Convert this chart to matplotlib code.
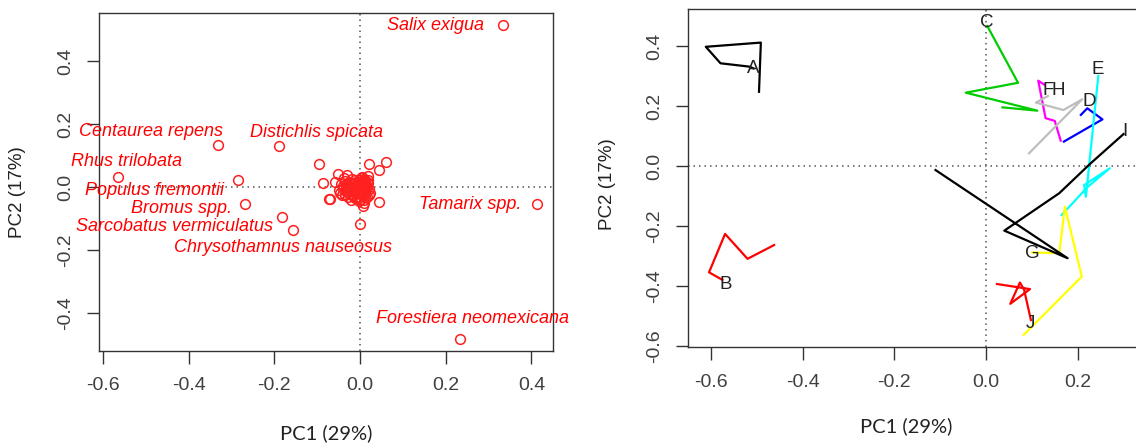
import numpy as np
import matplotlib.pyplot as plt

plt.rcParams['font.family'] = ['Liberation Sans', 'DejaVu Sans']

# ---- left panel: species scores ----
species = ['Salix exigua', 'Tamarix spp.', 'Forestiera neomexicana', 'Centaurea repens',
           'Distichlis spicata', 'Rhus trilobata', 'Populus fremontii', 'Bromus spp.',
           'Sarcobatus vermiculatus', 'Chrysothamnus nauseosus']
sp_x = [0.333, 0.413, 0.233, -0.332, -0.190, -0.566, -0.286, -0.269, -0.183, -0.157]
sp_y = [0.514, -0.054, -0.480, 0.134, 0.132, 0.031, 0.022, -0.054, -0.093, -0.136]
lab_x = [0.176, 0.258, 0.262, -0.489, -0.101, -0.545, -0.479, -0.418, -0.434, -0.180]
lab_y = [0.514, -0.054, -0.416, 0.178, 0.174, 0.083, -0.011, -0.069, -0.126, -0.190]

other_x = [-0.095, -0.087, -0.072, -0.070, 0.021, 0.060, 0.045, 0.044, 0.000, 0.006,
           -0.051, -0.030, -0.059, 0.004, 0.019, 0.015, 0.023, 0.000,
           -0.045, -0.040, -0.035, -0.030, -0.025, -0.020, -0.018, -0.015, -0.012,
           -0.010, -0.008, -0.005, -0.003, 0.000, 0.002, 0.004, 0.006, 0.008, 0.010,
           0.012, 0.014, 0.016, 0.018, -0.028, -0.038, -0.022, 0.008, -0.050, -0.042,
           0.020, -0.002, 0.012, -0.016, -0.006, 0.003, 0.010, -0.033,
           -0.046, -0.041, -0.036, -0.031, -0.026, -0.021, -0.017, -0.013, -0.009,
           -0.004, 0.001, 0.005, 0.009, 0.013, 0.017, 0.021, -0.024, -0.019, -0.011,
           -0.001, 0.007, 0.015, -0.034, -0.027, -0.014, 0.011, 0.019, -0.007, 0.002]
other_y = [0.074, 0.012, -0.038, -0.036, 0.074, 0.080, 0.055, -0.048, -0.115, -0.060,
           0.042, 0.039, 0.017, 0.033, 0.035, 0.002, -0.017, -0.041,
           0.010, -0.005, 0.020, -0.015, 0.005, 0.025, -0.020, 0.012, -0.008,
           0.018, -0.030, 0.002, 0.022, -0.012, 0.010, -0.025, 0.015, -0.004, 0.026,
           -0.018, 0.006, -0.030, 0.012, -0.030, 0.030, -0.040, -0.040, -0.010, -0.025,
           -0.005, -0.045, 0.020, 0.000, -0.018, 0.028, -0.050, -0.012,
           -0.018, 0.004, -0.024, 0.010, -0.006, 0.014, -0.028, 0.022, 0.004,
           -0.014, 0.016, -0.008, 0.020, -0.010, 0.000, -0.026, -0.020, -0.004, -0.034,
           0.006, -0.022, 0.018, 0.000, 0.016, -0.016, -0.032, 0.022, 0.010, -0.036]

# ---- right panel: site trajectories ----
sites = ['A', 'B', 'C', 'D', 'E', 'F', 'G', 'H', 'I', 'J']
site_colors = ['#000000', '#FF0000', '#00CD00', '#0000FF', '#00FFFF',
               '#FF00FF', '#FFFF00', '#BEBEBE', '#000000', '#FF0000']
traj_x = [[-0.495, -0.491, -0.611, -0.579, -0.517, -0.507],
          [-0.462, -0.520, -0.569, -0.604, -0.575],
          [0.003, 0.070, -0.044, 0.112, 0.036],
          [0.170, 0.254, 0.221, 0.207],
          [0.245, 0.218, 0.214, 0.270, 0.222, 0.165],
          [0.128, 0.114, 0.130, 0.150, 0.163],
          [0.101, 0.160, 0.172, 0.209, 0.082],
          [0.094, 0.210, 0.169, 0.109, 0.135],
          [0.300, 0.228, 0.160, 0.040, 0.178, -0.110],
          [0.024, 0.096, 0.053, 0.074, 0.083, 0.098]]
traj_y = [[0.249, 0.413, 0.399, 0.344, 0.333, 0.327],
          [-0.262, -0.308, -0.225, -0.353, -0.378],
          [0.468, 0.279, 0.246, 0.186, 0.197],
          [0.083, 0.157, 0.194, 0.172],
          [0.302, -0.101, -0.062, -0.006, -0.068, -0.162],
          [0.272, 0.286, 0.161, 0.152, 0.086],
          [-0.287, -0.289, -0.134, -0.367, -0.562],
          [0.044, 0.224, 0.188, 0.213, 0.235],
          [0.108, 0.010, -0.089, -0.214, -0.306, -0.012],
          [-0.392, -0.409, -0.458, -0.387, -0.410, -0.512]]
site_lx = [-0.507, -0.567, 0.002, 0.226, 0.243, 0.135, 0.101, 0.158, 0.304, 0.096]
site_ly = [0.327, -0.393, 0.479, 0.218, 0.322, 0.254, -0.289, 0.254, 0.115, -0.523]

W, H = 1136, 444
fig = plt.figure(figsize=(W / 100, H / 100), dpi=100)
axis_col = '#333333'


def style(ax, xt, yt):
    for s in ax.spines.values():
        s.set_color(axis_col)
        s.set_linewidth(1.0)
    ax.set_xticks(xt)
    ax.set_yticks(yt)
    ax.set_xticklabels(['%.1f' % v for v in xt])
    ax.set_yticklabels(['%.1f' % v for v in yt], rotation=90, va='center')
    ax.tick_params(axis='both', direction='out', length=9, width=1.0, colors=axis_col,
                   labelsize=14, labelcolor='#404040')
    ax.tick_params(axis='x', pad=10)
    ax.tick_params(axis='y', pad=9)
    ax.axhline(0, color='#555555', lw=1.1, ls=(0, (1, 2.6)))
    ax.axvline(0, color='#555555', lw=1.1, ls=(0, (1, 2.6)))


# left panel
ax1 = fig.add_axes([99.2 / W, (H - 350.7) / H, 454.1 / W, 338 / H])
ax1.set_xlim(-0.609, 0.451)
ax1.set_ylim(-0.518, 0.553)
style(ax1, [-0.6, -0.4, -0.2, 0.0, 0.2, 0.4], [-0.4, -0.2, 0.0, 0.2, 0.4])
ax1.plot(other_x, other_y, 'o', mfc='none', mec='#FF2020', ms=7, mew=1.1)
ax1.plot(sp_x, sp_y, 'o', mfc='none', mec='#FF2020', ms=7, mew=1.1)
for name, x, y in zip(species, lab_x, lab_y):
    ax1.text(x, y, name, color='#FF0000', fontsize=13, style='italic',
             ha='center', va='center', clip_on=False)

# right panel (runs past the right edge of the picture)
ax2 = fig.add_axes([688.4 / W, (H - 347.3) / H, 471.8 / W, 338 / H])
ax2.set_xlim(-0.649, 0.38)
ax2.set_ylim(-0.603, 0.524)
style(ax2, [-0.6, -0.4, -0.2, 0.0, 0.2], [-0.6, -0.4, -0.2, 0.0, 0.2, 0.4])
for xs, ys, c in zip(traj_x, traj_y, site_colors):
    ax2.plot(xs, ys, color=c, lw=1.6)
for s, x, y in zip(sites, site_lx, site_ly):
    ax2.text(x, y, s, color='#222222', fontsize=13.5, ha='center', va='center')

# axis titles
fig.text(326.6 / W, 1 - 433 / H, 'PC1 (29%)', family='Lato', fontsize=14.5,
         ha='center', va='center', color='#222222')
fig.text(906 / W, 1 - 426.7 / H, 'PC1 (29%)', family='Lato', fontsize=14.5,
         ha='center', va='center', color='#222222')
fig.text(18 / W, 1 - 191.7 / H, 'PC2 (17%)', fontsize=13.5, rotation=90,
         ha='center', va='center', color='#222222')
fig.text(608 / W, 1 - 184 / H, 'PC2 (17%)', fontsize=13.5, rotation=90,
         ha='center', va='center', color='#222222')

fig.savefig('out.png', dpi=100)
